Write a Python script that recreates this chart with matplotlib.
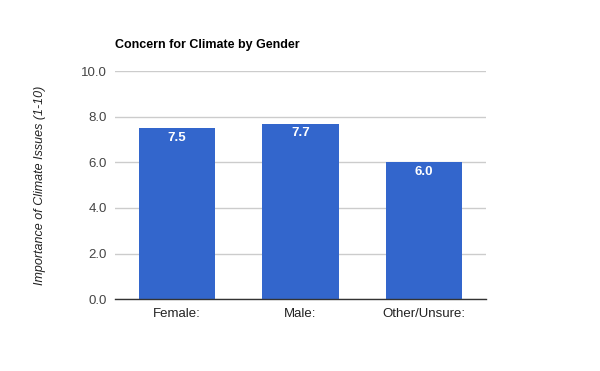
import matplotlib
matplotlib.use("Agg")
import matplotlib.pyplot as plt

categories = ["Female:", "Male:", "Other/Unsure:"]
values = [7.5, 7.7, 6.0]
yticks = [0, 2, 4, 6, 8, 10]

plt.rcParams['font.family'] = ['Liberation Sans', 'DejaVu Sans']

fig = plt.figure(figsize=(6, 3.71), dpi=100)
ax = fig.add_axes([115/600, 1-299.3/371, (486-115)/600, (299.3-71)/371])

x = list(range(len(categories)))
bars = ax.bar(x, values, width=0.615, color="#3366cc", zorder=3)
ax.set_xlim(-0.5, len(categories)-0.5)
ax.set_ylim(0, 10)
ax.set_yticks(yticks)
ax.set_yticklabels([f"{v:.1f}" for v in yticks], color="#444444", fontsize=9.5)
ax.set_xticks(x)
ax.set_xticklabels(categories, color="#222222", fontsize=9.5)
ax.tick_params(length=0, pad=6)
ax.grid(axis='y', color="#cccccc", linewidth=1, zorder=0)
for s in ["top", "right", "left"]:
    ax.spines[s].set_visible(False)
ax.spines["bottom"].set_color("#333333")
ax.spines["bottom"].set_linewidth(1)
ax.spines["bottom"].set_zorder(4)

for b, v in zip(bars, values):
    ax.annotate(f"{v:.1f}", (b.get_x()+b.get_width()/2, v), xytext=(0, -7),
                textcoords="offset points", ha="center", va="center",
                color="white", fontweight="bold", fontsize=9.5, zorder=5)

fig.text(115/600, 1-45/371, "Concern for Climate by Gender", fontsize=9,
         fontweight="bold", ha="left", va="center", color="#000000")
fig.text(40/600, 1-185/371, "Importance of Climate Issues (1-10)", rotation=90,
         fontsize=9, style="italic", ha="center", va="center", color="#222222")

fig.savefig("out.png", dpi=100)
